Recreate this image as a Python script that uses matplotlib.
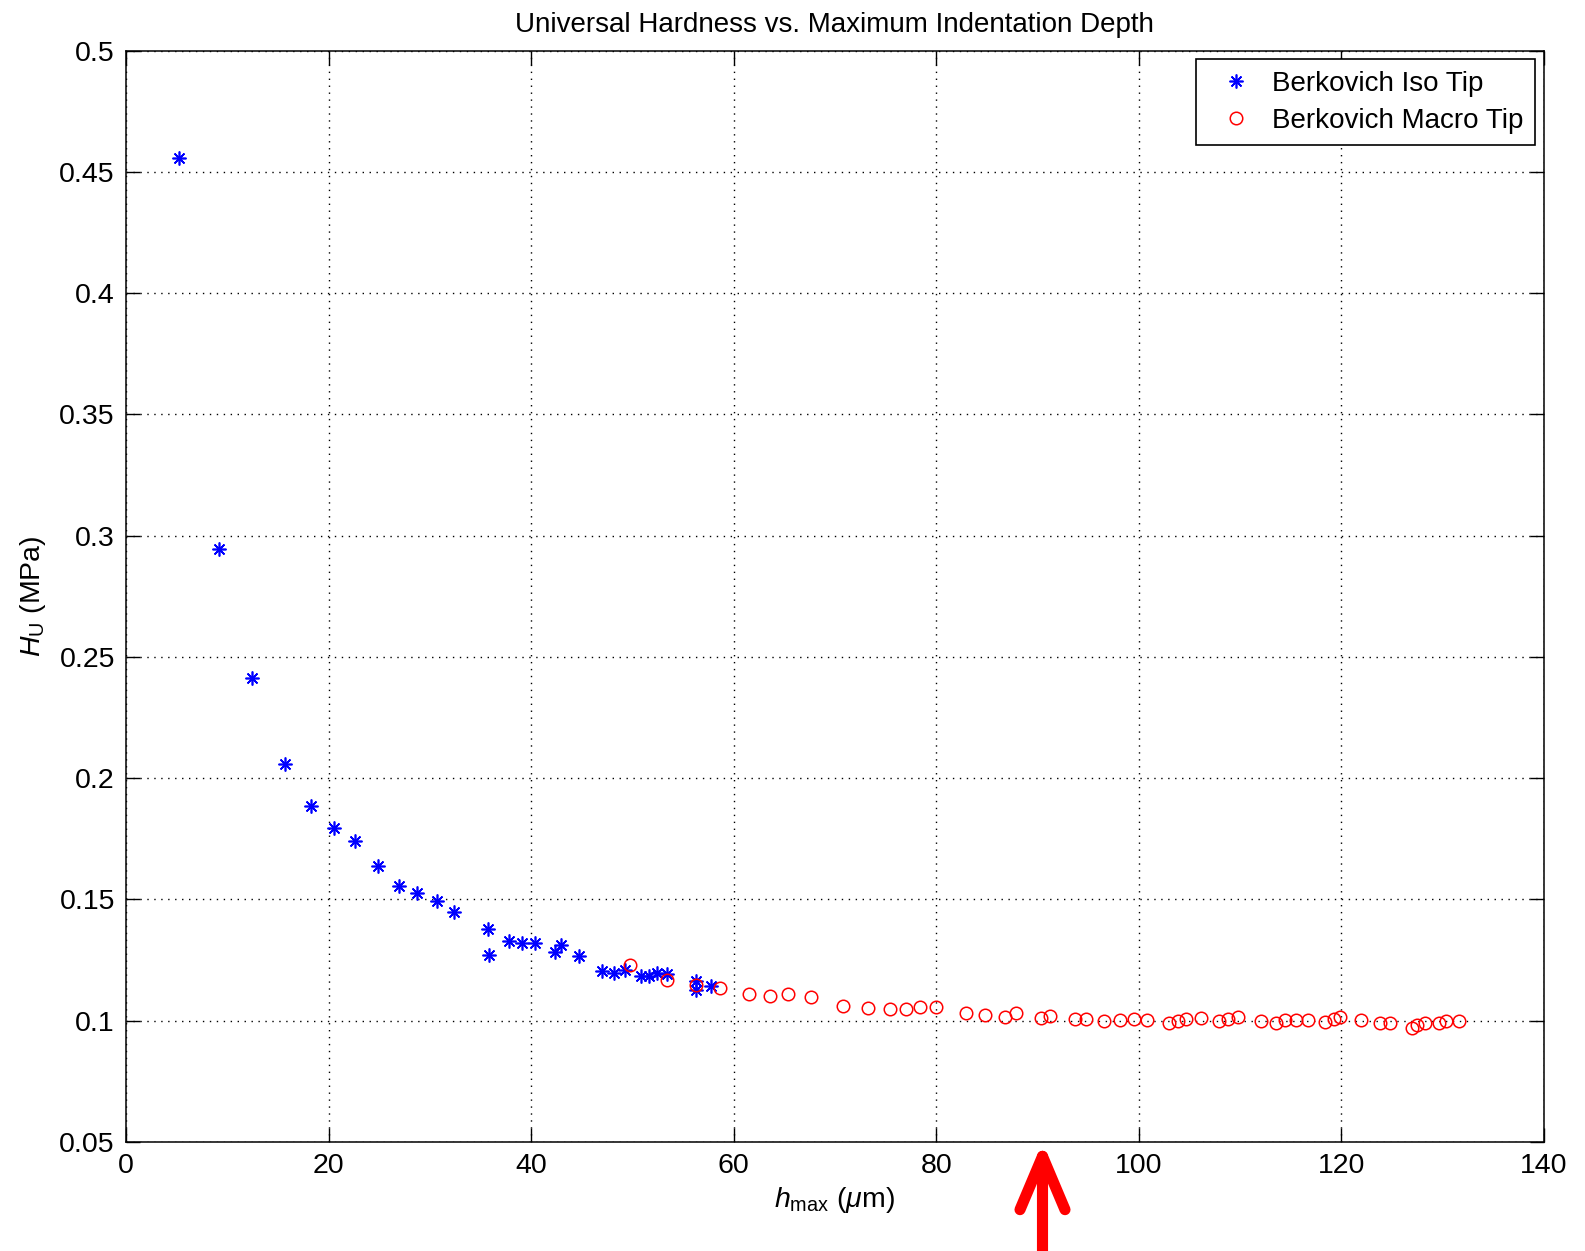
import numpy as np
import matplotlib.pyplot as plt
from matplotlib.patches import FancyArrowPatch

plt.rcParams['font.family'] = ['Liberation Sans', 'DejaVu Sans']
plt.rcParams['mathtext.fontset'] = 'custom'
plt.rcParams['mathtext.rm'] = 'Liberation Sans'
plt.rcParams['mathtext.it'] = 'Liberation Sans:italic'
plt.rcParams['mathtext.bf'] = 'Liberation Sans:bold'

# Berkovich Iso tip
iso_h = [5.27, 9.22, 12.45, 15.68, 18.3, 20.51, 22.58, 24.92, 26.99, 28.7,
         30.68, 32.39, 35.71, 35.87, 37.79, 39.13, 40.42, 42.33, 42.95, 44.7,
         47.03, 48.21, 49.27, 50.85, 51.67, 52.46, 53.45, 56.25, 56.25, 57.73]
iso_hu = [0.4556, 0.2945, 0.2413, 0.2059, 0.1887, 0.1796, 0.1742, 0.1636, 0.1557, 0.1528,
          0.1493, 0.1448, 0.138, 0.127, 0.133, 0.132, 0.132, 0.1284, 0.1314, 0.1269,
          0.1204, 0.1197, 0.121, 0.1185, 0.1185, 0.1196, 0.1193, 0.1162, 0.1125, 0.1144]

# Berkovich Macro tip
macro_h = [49.73, 53.45, 56.25, 58.62, 61.54, 63.58, 65.33, 67.66, 70.76, 73.26,
           75.43, 77.04, 78.36, 79.97, 82.9, 84.81, 86.81, 87.9, 90.34, 91.23,
           93.66, 94.78, 96.55, 98.13, 99.49, 100.77, 102.97, 103.89, 104.65, 106.2,
           107.88, 108.86, 109.78, 112.05, 113.53, 114.42, 115.58, 116.72, 118.44, 119.33,
           119.92, 121.99, 123.8, 124.78, 126.99, 127.48, 128.24, 129.65, 130.38, 131.6]
macro_hu = [0.1229, 0.1166, 0.1148, 0.1137, 0.1111, 0.1104, 0.1111, 0.1097, 0.1061, 0.1054,
            0.1049, 0.105, 0.1056, 0.1056, 0.1031, 0.1024, 0.1016, 0.1033, 0.1011, 0.1019,
            0.1007, 0.1007, 0.1001, 0.1002, 0.1008, 0.1002, 0.099, 0.1001, 0.1008, 0.1013,
            0.1001, 0.1008, 0.1015, 0.1001, 0.099, 0.1002, 0.1002, 0.1002, 0.0995, 0.1008,
            0.1015, 0.1002, 0.099, 0.099, 0.0969, 0.0983, 0.0991, 0.0991, 0.0997, 0.0998]

arrow_h = 90.5

fig = plt.figure(figsize=(15.85, 12.51), dpi=100)
ax = fig.add_axes([0.0795, 0.0871, 0.8945, 0.8725])

ax.plot(iso_h, iso_hu, linestyle='none', marker=(8, 2, 0), markersize=10,
        markeredgewidth=1.2, color='blue', label='Berkovich Iso Tip')
ax.plot(macro_h, macro_hu, linestyle='none', marker='o', markersize=9,
        markerfacecolor='none', markeredgewidth=1.1, markeredgecolor='red',
        label='Berkovich Macro Tip')

ax.set_xlim(0, 140)
ax.set_ylim(0.05, 0.5)
ax.set_xticks(np.arange(0, 141, 20))
ax.set_yticks(np.arange(0.05, 0.501, 0.05))
ax.set_yticklabels(['0.05', '0.1', '0.15', '0.2', '0.25', '0.3', '0.35', '0.4', '0.45', '0.5'])
ax.tick_params(direction='in', length=10, width=1, top=True, right=True,
               labelsize=20.5, pad=8)
ax.grid(True, linestyle=(0, (1, 4)), color='black', linewidth=1)
for s in ax.spines.values():
    s.set_linewidth(1.1)

ax.set_title('Universal Hardness vs. Maximum Indentation Depth', fontsize=20, pad=13)
ax.set_xlabel(r'$h_{\mathrm{max}}$ ($\mu$m)', fontsize=20.5, labelpad=4)
ax.set_ylabel(r'$H_{\mathrm{U}}$ (MPa)', fontsize=20.5, labelpad=8)

leg = ax.legend(loc='upper right', fontsize=20, fancybox=False, framealpha=1,
                edgecolor='black', borderaxespad=0.32, handletextpad=0.25,
                handlelength=2.1, borderpad=0.4, labelspacing=0.4, numpoints=1)
leg.get_frame().set_linewidth(1.2)

# red arrow under the x axis pointing at h = 90.5
x0, x1 = ax.get_xlim()
pos = ax.get_position()
ax_x = pos.x0 + (arrow_h - x0) / (x1 - x0) * pos.width
arrow = FancyArrowPatch((ax_x, 0.0), (ax_x, pos.y0), transform=fig.transFigure,
                        arrowstyle='->,head_length=3.2,head_width=1.35',
                        mutation_scale=12, color='red', linewidth=8,
                        capstyle='round', joinstyle='round',
                        shrinkA=0, shrinkB=0, clip_on=False)
fig.patches.append(arrow)

fig.savefig('out.png', dpi=100)
